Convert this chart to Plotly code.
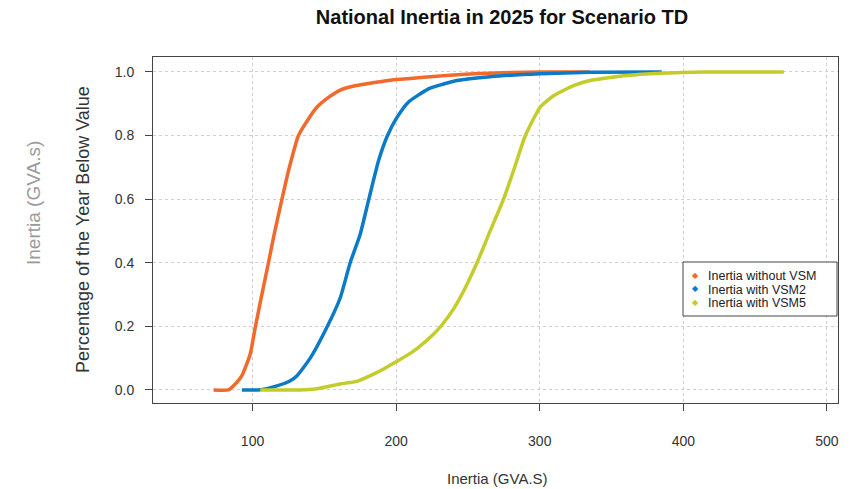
import plotly.graph_objects as go

# ---- data ----
series_names = ["Inertia without VSM", "Inertia with VSM2", "Inertia with VSM5"]
series_colors = ["#F26A2B", "#0B7BC7", "#C3CC2B"]

x_no_vsm = [72.9, 83.3, 86.8, 92.6, 98.4, 101.9, 106.5, 111.1, 115.1, 120.5, 125.1, 132.0,
            137.9, 144.8, 152.9, 161.1, 170.0, 179.7, 190.0, 200.6, 219.1, 237.7, 258.6,
            280.0, 300.3, 335.0]
y_no_vsm = [0.0, 0.0, 0.013, 0.045, 0.113, 0.197, 0.30, 0.40, 0.49, 0.60, 0.69, 0.80,
            0.845, 0.889, 0.92, 0.943, 0.955, 0.963, 0.970, 0.976, 0.983, 0.990, 0.995,
            0.998, 1.0, 1.0]

x_vsm2 = [92.6, 104.0, 117.0, 126.3, 131.0, 140.2, 151.8, 161.1, 168.0, 175.0, 181.0,
          187.7, 194.0, 200.6, 208.5, 222.5, 233.0, 242.3, 265.5, 300.3, 335.0, 385.0]
y_vsm2 = [0.0, 0.0, 0.013, 0.029, 0.045, 0.10, 0.197, 0.29, 0.40, 0.49, 0.60,
          0.72, 0.80, 0.857, 0.905, 0.947, 0.962, 0.973, 0.985, 0.994, 0.999, 1.0]

x_vsm5 = [105.4, 133.0, 144.8, 161.0, 172.6, 184.3, 191.3, 200.6, 209.8, 214.5, 226.0,
          232.0, 240.0, 248.0, 256.3, 265.5, 274.8, 281.8, 290.0, 300.3, 309.6, 323.5,
          335.0, 360.8, 384.0, 414.0, 470.0]
y_vsm5 = [0.0, 0.0, 0.004, 0.019, 0.027, 0.05, 0.066, 0.09, 0.115, 0.13, 0.175,
          0.205, 0.255, 0.32, 0.40, 0.50, 0.60, 0.69, 0.80, 0.889, 0.925, 0.957,
          0.973, 0.989, 0.996, 1.0, 1.0]

x_ticks = [100, 200, 300, 400, 500]
y_ticks = [0.0, 0.2, 0.4, 0.6, 0.8, 1.0]
y_tick_labels = ["0.0", "0.2", "0.4", "0.6", "0.8", "1.0"]

FONT = "Liberation Sans, Arial, sans-serif"

fig = go.Figure()
for xs, ys, name, col in zip([x_no_vsm, x_vsm2, x_vsm5], [y_no_vsm, y_vsm2, y_vsm5],
                             series_names, series_colors):
    fig.add_trace(go.Scatter(x=xs, y=ys, mode="lines", name=name,
                             line=dict(color=col, width=3.5, shape="spline", smoothing=0.5),
                             showlegend=False))

# page body has an 8px margin; lay out in screen pixels and compensate
OFF = 8
W, H = 853 - OFF, 489 - OFF
L, T = 153 - OFF, 57 - OFF
R = W - (838 - OFF)
B = H - (403 - OFF)
pw, ph = W - L - R, H - T - B


def px2paper_x(sx):
    return (sx - OFF - L) / pw


def px2paper_y(sy):
    return (H - B - (sy - OFF)) / ph


fig.update_layout(
    width=W, height=H,
    margin=dict(l=L, r=R, t=T, b=B),
    paper_bgcolor="white", plot_bgcolor="white",
    font=dict(family=FONT, color="#333333", size=14),
    title=dict(text="<b>National Inertia in 2025 for Scenario TD</b>",
               x=(502 - OFF) / W, xanchor="center", y=1 - 2 / H, yanchor="top",
               font=dict(family=FONT, size=20, color="#111111")),
    showlegend=False,
)

fig.update_xaxes(
    range=[30.7, 507.7], tickvals=x_ticks, ticks="outside", ticklen=7,
    tickcolor="#444444", showline=True, linecolor="#444444", linewidth=1, mirror=True,
    showgrid=True, gridcolor="#d0d0d0", griddash="dot", gridwidth=1, zeroline=False,
    tickfont=dict(size=14, color="#333333"), ticklabelstandoff=18,
)
fig.update_yaxes(
    range=[-0.041, 1.047], tickvals=y_ticks, ticktext=y_tick_labels, ticks="outside",
    ticklen=7, tickcolor="#444444", showline=True, linecolor="#444444", linewidth=1,
    mirror=True, showgrid=True, gridcolor="#d0d0d0", griddash="dot", gridwidth=1,
    zeroline=False, tickfont=dict(size=14, color="#333333"),
    ticklabelstandoff=8,
)

# axis titles as annotations (positioned like the reference)
fig.add_annotation(text="Percentage of the Year Below Value", textangle=-90,
                   xref="paper", yref="paper", x=px2paper_x(83), y=px2paper_y(230),
                   xanchor="center", yanchor="middle",
                   showarrow=False, font=dict(size=18, color="#333333"))
fig.add_annotation(text="Inertia (GVA.s)", textangle=-90,
                   xref="paper", yref="paper", x=px2paper_x(34), y=px2paper_y(203),
                   xanchor="center", yanchor="middle",
                   showarrow=False, font=dict(size=19, color="#9a9a9a"))
fig.add_annotation(text="Inertia (GVA.S)", xref="paper", yref="paper",
                   x=px2paper_x(497), y=px2paper_y(478), xanchor="center", yanchor="middle",
                   showarrow=False, font=dict(size=15, color="#333333"))

# manual legend
fig.add_shape(type="rect", xref="paper", yref="paper",
              x0=px2paper_x(683), x1=px2paper_x(837), y0=px2paper_y(316), y1=px2paper_y(262),
              line=dict(color="#444444", width=1), fillcolor="white", layer="above")
row_y = [276, 289.5, 303]
for name, col, ry in zip(series_names, series_colors, row_y):
    fig.add_annotation(text="◆", xref="paper", yref="paper", x=px2paper_x(695),
                       y=px2paper_y(ry - 1), showarrow=False, xanchor="center",
                       yanchor="middle", font=dict(size=8, color=col))
    fig.add_annotation(text=name, xref="paper", yref="paper", x=px2paper_x(706),
                       y=px2paper_y(ry), showarrow=False, xanchor="left",
                       yanchor="middle", font=dict(size=12.5, color="#222222"))

fig.write_html("out.html")
